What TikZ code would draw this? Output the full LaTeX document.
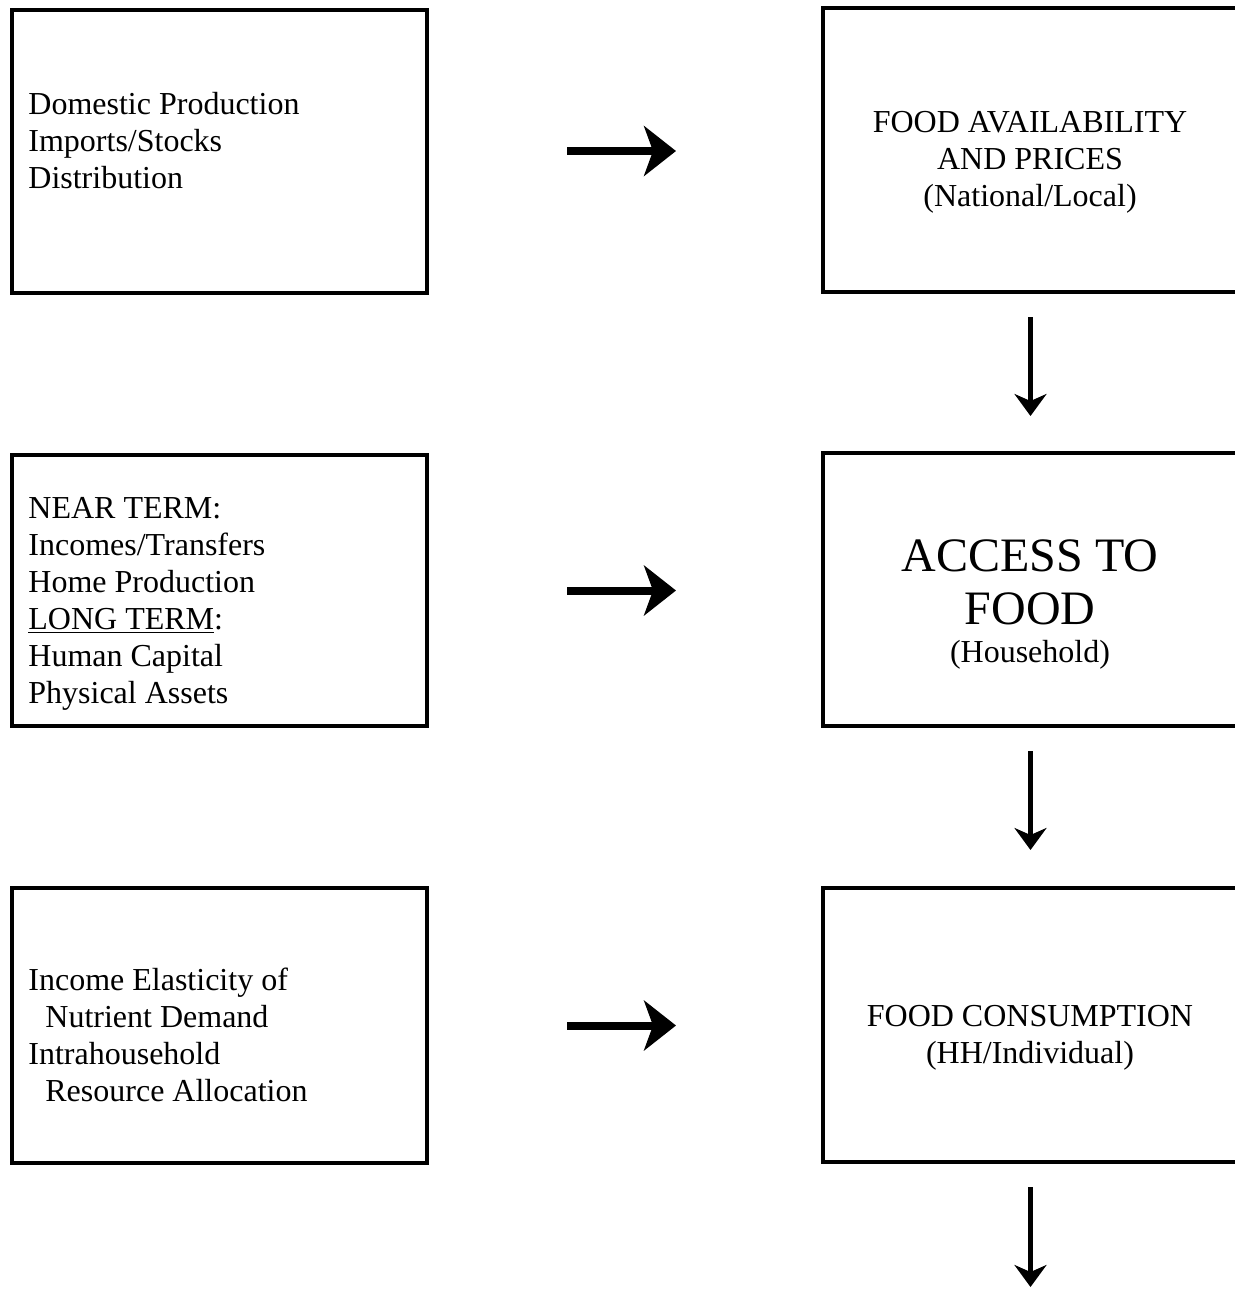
\documentclass[tikz,border=0pt]{standalone}
\usepackage{fontspec}
\setmainfont{Liberation Serif}
\usetikzlibrary{arrows.meta,positioning}
\tikzset{
  box/.style={draw,line width=2pt,minimum width=207.5pt,inner sep=0pt},
  txt/.style={inner sep=0pt,font=\fontsize{16}{18.5}\selectfont},
  bigtxt/.style={inner sep=0pt,font=\fontsize{24}{26.5}\selectfont},
  flow/.style={line width=4pt,-{Stealth[length=16pt,width=25pt,inset=4.5pt]},
    shorten <=69pt,shorten >=72.5pt},
  down/.style={line width=2.5pt,-{Stealth[length=11pt,width=16pt,inset=3.5pt]},
    shorten <=11.5pt},
}

\begin{document}
\begin{tikzpicture}[x=0.5pt,y=-0.5pt]
  
  % page size in pixels of the original
  \useasboundingbox (0,0) rectangle (1235,1314);
  \def\xl{219.5}  % left column
  \def\xr{1030.5} % right column
  
  % boxes
  \node[box,minimum height=141.5pt] (src1) at (\xl,151) {};
  \node[box,minimum height=135.5pt] (src2) at (\xl,590.5) {};
  \node[box,minimum height=137.5pt] (src3) at (\xl,1025.5) {};
  \node[box,minimum height=142pt] (dst1) at (\xr,150) {};
  \node[box,minimum height=136.5pt] (dst2) at (\xr,589.5) {};
  \node[box,minimum height=137pt] (dst3) at (\xr,1025) {};
  \coordinate (end) at (\xr,1287);
  
  % texts
  \node[txt,anchor=west,align=left] (srctxt1) at (28,141)
    {Domestic Production\\Imports/Stocks\\Distribution};
  \node[txt,anchor=west,align=left] (srctxt2) at (28,603.5)
    {NEAR TERM:\\Incomes/Transfers\\Home Production\\\underline{LONG TERM}:\\Human Capital\\Physical Assets};
  \node[txt,anchor=west,align=left] (srctxt3) at (28,1034.5)
    {Income Elasticity of\\\hspace*{8.5pt}Nutrient Demand\\Intrahousehold\\\hspace*{8.5pt}Resource Allocation};
  \node[txt,align=center] (dsttxt1) at (1030,162.5)
    {FOOD AVAILABILITY\\AND PRICES\\(National/Local)};
  \node[bigtxt,align=center] (access) at (1030,582.5) {ACCESS TO\\FOOD};
  \node[txt,anchor=base] (hh) at ([yshift=-18.5pt]access.south) {(Household)};
  \node[txt,align=center] (dsttxt3) at (1030,1038)
    {FOOD CONSUMPTION\\(HH/Individual)};
  
  % arrows
  \draw[flow] (src1.east) -- (src1.east -| dst1.west);
  \draw[flow] (src2.east) -- (src2.east -| dst2.west);
  \draw[flow] (src3.east) -- (src3.east -| dst3.west);
  \draw[down,shorten >=17.5pt] (dst1.south) -- (dst2.north);
  \draw[down,shorten >=18pt] (dst2.south) -- (dst3.north);
  \draw[down] (dst3.south) -- (end);
  
\end{tikzpicture}
\end{document}
